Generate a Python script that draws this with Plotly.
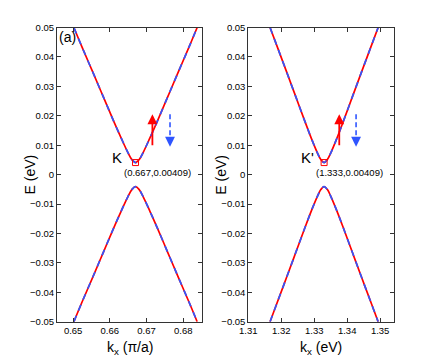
import plotly.graph_objects as go

# upper / lower band (K valley)
k_left = [0.6502, 0.6524, 0.6553, 0.6582, 0.6611, 0.6631, 0.6650, 0.6660, 0.667,
          0.6680, 0.6690, 0.6709, 0.6729, 0.6758, 0.6787, 0.6816, 0.6838]
# same bands around K' (right panel)
k_right = [1.3166, 1.3188, 1.3216, 1.3244, 1.3272, 1.3291, 1.3310, 1.3320, 1.333,
           1.3340, 1.3350, 1.3369, 1.3388, 1.3416, 1.3444, 1.3472, 1.3494]
e_upper = [0.050, 0.0434, 0.0350, 0.0265, 0.0180, 0.0124, 0.0073, 0.0051, 0.00409,
           0.0051, 0.0073, 0.0124, 0.0180, 0.0265, 0.0350, 0.0434, 0.050]
e_lower = [-0.050, -0.0434, -0.0350, -0.0265, -0.0180, -0.0124, -0.0073, -0.0051, -0.00409,
           -0.0051, -0.0073, -0.0124, -0.0180, -0.0265, -0.0350, -0.0434, -0.050]

valley_k = [0.667, 1.333]
valley_e = [0.00409, 0.00409]
valley_names = ["K", "K'"]
valley_labels = ["(0.667,0.00409)", "(1.333,0.00409)"]

# spin arrows: x position, tail and tip energy
up_x = [0.6716, 1.3376]
down_x = [0.6764, 1.3427]
arrow_lo = 0.0095
arrow_hi = 0.0205

xranges = [[0.6456, 0.6852], [1.31, 1.3543]]
xtick_vals = [[0.65, 0.66, 0.67, 0.68], [1.31, 1.32, 1.33, 1.34, 1.35]]
xtitles = ["k<sub>x</sub> (π/a)", "k<sub>x</sub> (eV)"]
ytick_vals = [0.05, 0.04, 0.03, 0.02, 0.01, 0, -0.01, -0.02, -0.03, -0.04, -0.05]

FONT = "Liberation Sans, Arial, sans-serif"
RED = "#ff0000"
BLUE = "#2f55ff"

# the page body keeps its default 8px margin, so the figure is shrunk by that much
OFF = 8
W, H = 436 - OFF, 362 - OFF


def px(x):
    return (x - OFF) / W


def py(y):
    return 1 - (y - OFF) / H


fig = go.Figure()
panels = [(k_left, "x", "y"), (k_right, "x2", "y2")]

for i, (kk, xa, ya) in enumerate(panels):
    for band in (e_upper, e_lower):
        fig.add_trace(go.Scatter(x=kk, y=band, mode="lines", xaxis=xa, yaxis=ya,
                                 line=dict(color=RED, width=1.7, shape="spline"),
                                 showlegend=False, hoverinfo="skip"))
        fig.add_trace(go.Scatter(x=kk, y=band, mode="lines", xaxis=xa, yaxis=ya,
                                 line=dict(color=BLUE, width=1.7, dash="6px,6px", shape="spline"),
                                 showlegend=False, hoverinfo="skip"))
    # valley marker
    fig.add_trace(go.Scatter(x=[valley_k[i]], y=[valley_e[i]], mode="markers", xaxis=xa, yaxis=ya,
                             marker=dict(symbol="square-open", color=RED, size=6, line=dict(width=1)),
                             showlegend=False, hoverinfo="skip"))
    # dashed shaft of the spin-down arrow
    fig.add_trace(go.Scatter(x=[down_x[i], down_x[i]], y=[arrow_hi, arrow_lo + 0.0012],
                             mode="lines", xaxis=xa, yaxis=ya,
                             line=dict(color=BLUE, width=1.6, dash="5px,3px"),
                             showlegend=False, hoverinfo="skip"))

label_shift = [(-19, 5, -14), (-17, 5, -10)]
annotations = []
for i, xa in enumerate(["x", "x2"]):
    ya = "y" if i == 0 else "y2"
    annotations.append(dict(x=up_x[i], y=arrow_hi, ax=up_x[i], ay=arrow_lo,
                            xref=xa, yref=ya, axref=xa, ayref=ya,
                            showarrow=True, arrowhead=2, arrowsize=1.1, arrowwidth=1.8,
                            arrowcolor=RED, text=""))
    annotations.append(dict(x=down_x[i], y=arrow_lo, ax=down_x[i], ay=arrow_lo + 0.0025,
                            xref=xa, yref=ya, axref=xa, ayref=ya,
                            showarrow=True, arrowhead=2, arrowsize=1.1, arrowwidth=1.8,
                            arrowcolor=BLUE, text=""))
    kx, ky, lx = label_shift[i]
    annotations.append(dict(x=valley_k[i], y=valley_e[i], xref=xa, yref=ya,
                            text=valley_names[i], showarrow=False,
                            xshift=kx, yshift=ky, font=dict(size=15, family=FONT, color="black")))
    annotations.append(dict(x=valley_k[i], y=valley_e[i], xref=xa, yref=ya,
                            text=valley_labels[i], showarrow=False, xanchor="left",
                            xshift=lx, yshift=-10, font=dict(size=9.5, family=FONT, color="black")))

# axis titles placed as paper annotations
ytitle_x = [29.5, 220.7]
xtitle_x = [129.5, 321]
for i in range(2):
    annotations.append(dict(x=px(ytitle_x[i]), y=py(175), xref="paper", yref="paper", text="E (eV)",
                            textangle=-90, showarrow=False, xanchor="center", yanchor="middle",
                            font=dict(size=14, family=FONT, color="black")))
    annotations.append(dict(x=px(xtitle_x[i]), y=py(337), xref="paper", yref="paper", text=xtitles[i],
                            showarrow=False, xanchor="center", yanchor="top",
                            font=dict(size=14, family=FONT, color="black")))
annotations.append(dict(x=xranges[0][0], y=0.05, xref="x", yref="y", text="(a)", showarrow=False,
                        xanchor="left", yanchor="top", xshift=0, yshift=0,
                        font=dict(size=14, family=FONT, color="black")))

axis_common = dict(showline=True, mirror="ticks", linecolor="#333", linewidth=1,
                   ticks="inside", ticklen=4, tickcolor="#333", showgrid=False, zeroline=False,
                   automargin=False,
                   tickfont=dict(size=9.5, family=FONT, color="black"))

xdomains = [[px(57), px(202.3)], [px(248.3), px(394.3)]]
ydom = [py(321.7), py(27.5)]

fig.update_layout(
    width=W, height=H,
    margin=dict(l=0, r=0, t=0, b=0),
    plot_bgcolor="white", paper_bgcolor="white",
    annotations=annotations,
    font=dict(family=FONT, color="black"),
)
for i in range(2):
    sfx = "" if i == 0 else str(i + 1)
    fig.layout["xaxis" + sfx] = dict(axis_common, domain=xdomains[i], range=xranges[i],
                                     tickvals=xtick_vals[i], anchor="y" + sfx)
    fig.layout["yaxis" + sfx] = dict(axis_common, domain=ydom, range=[-0.05, 0.05],
                                     tickvals=ytick_vals, anchor="x" + sfx)

fig.write_html("out.html")
